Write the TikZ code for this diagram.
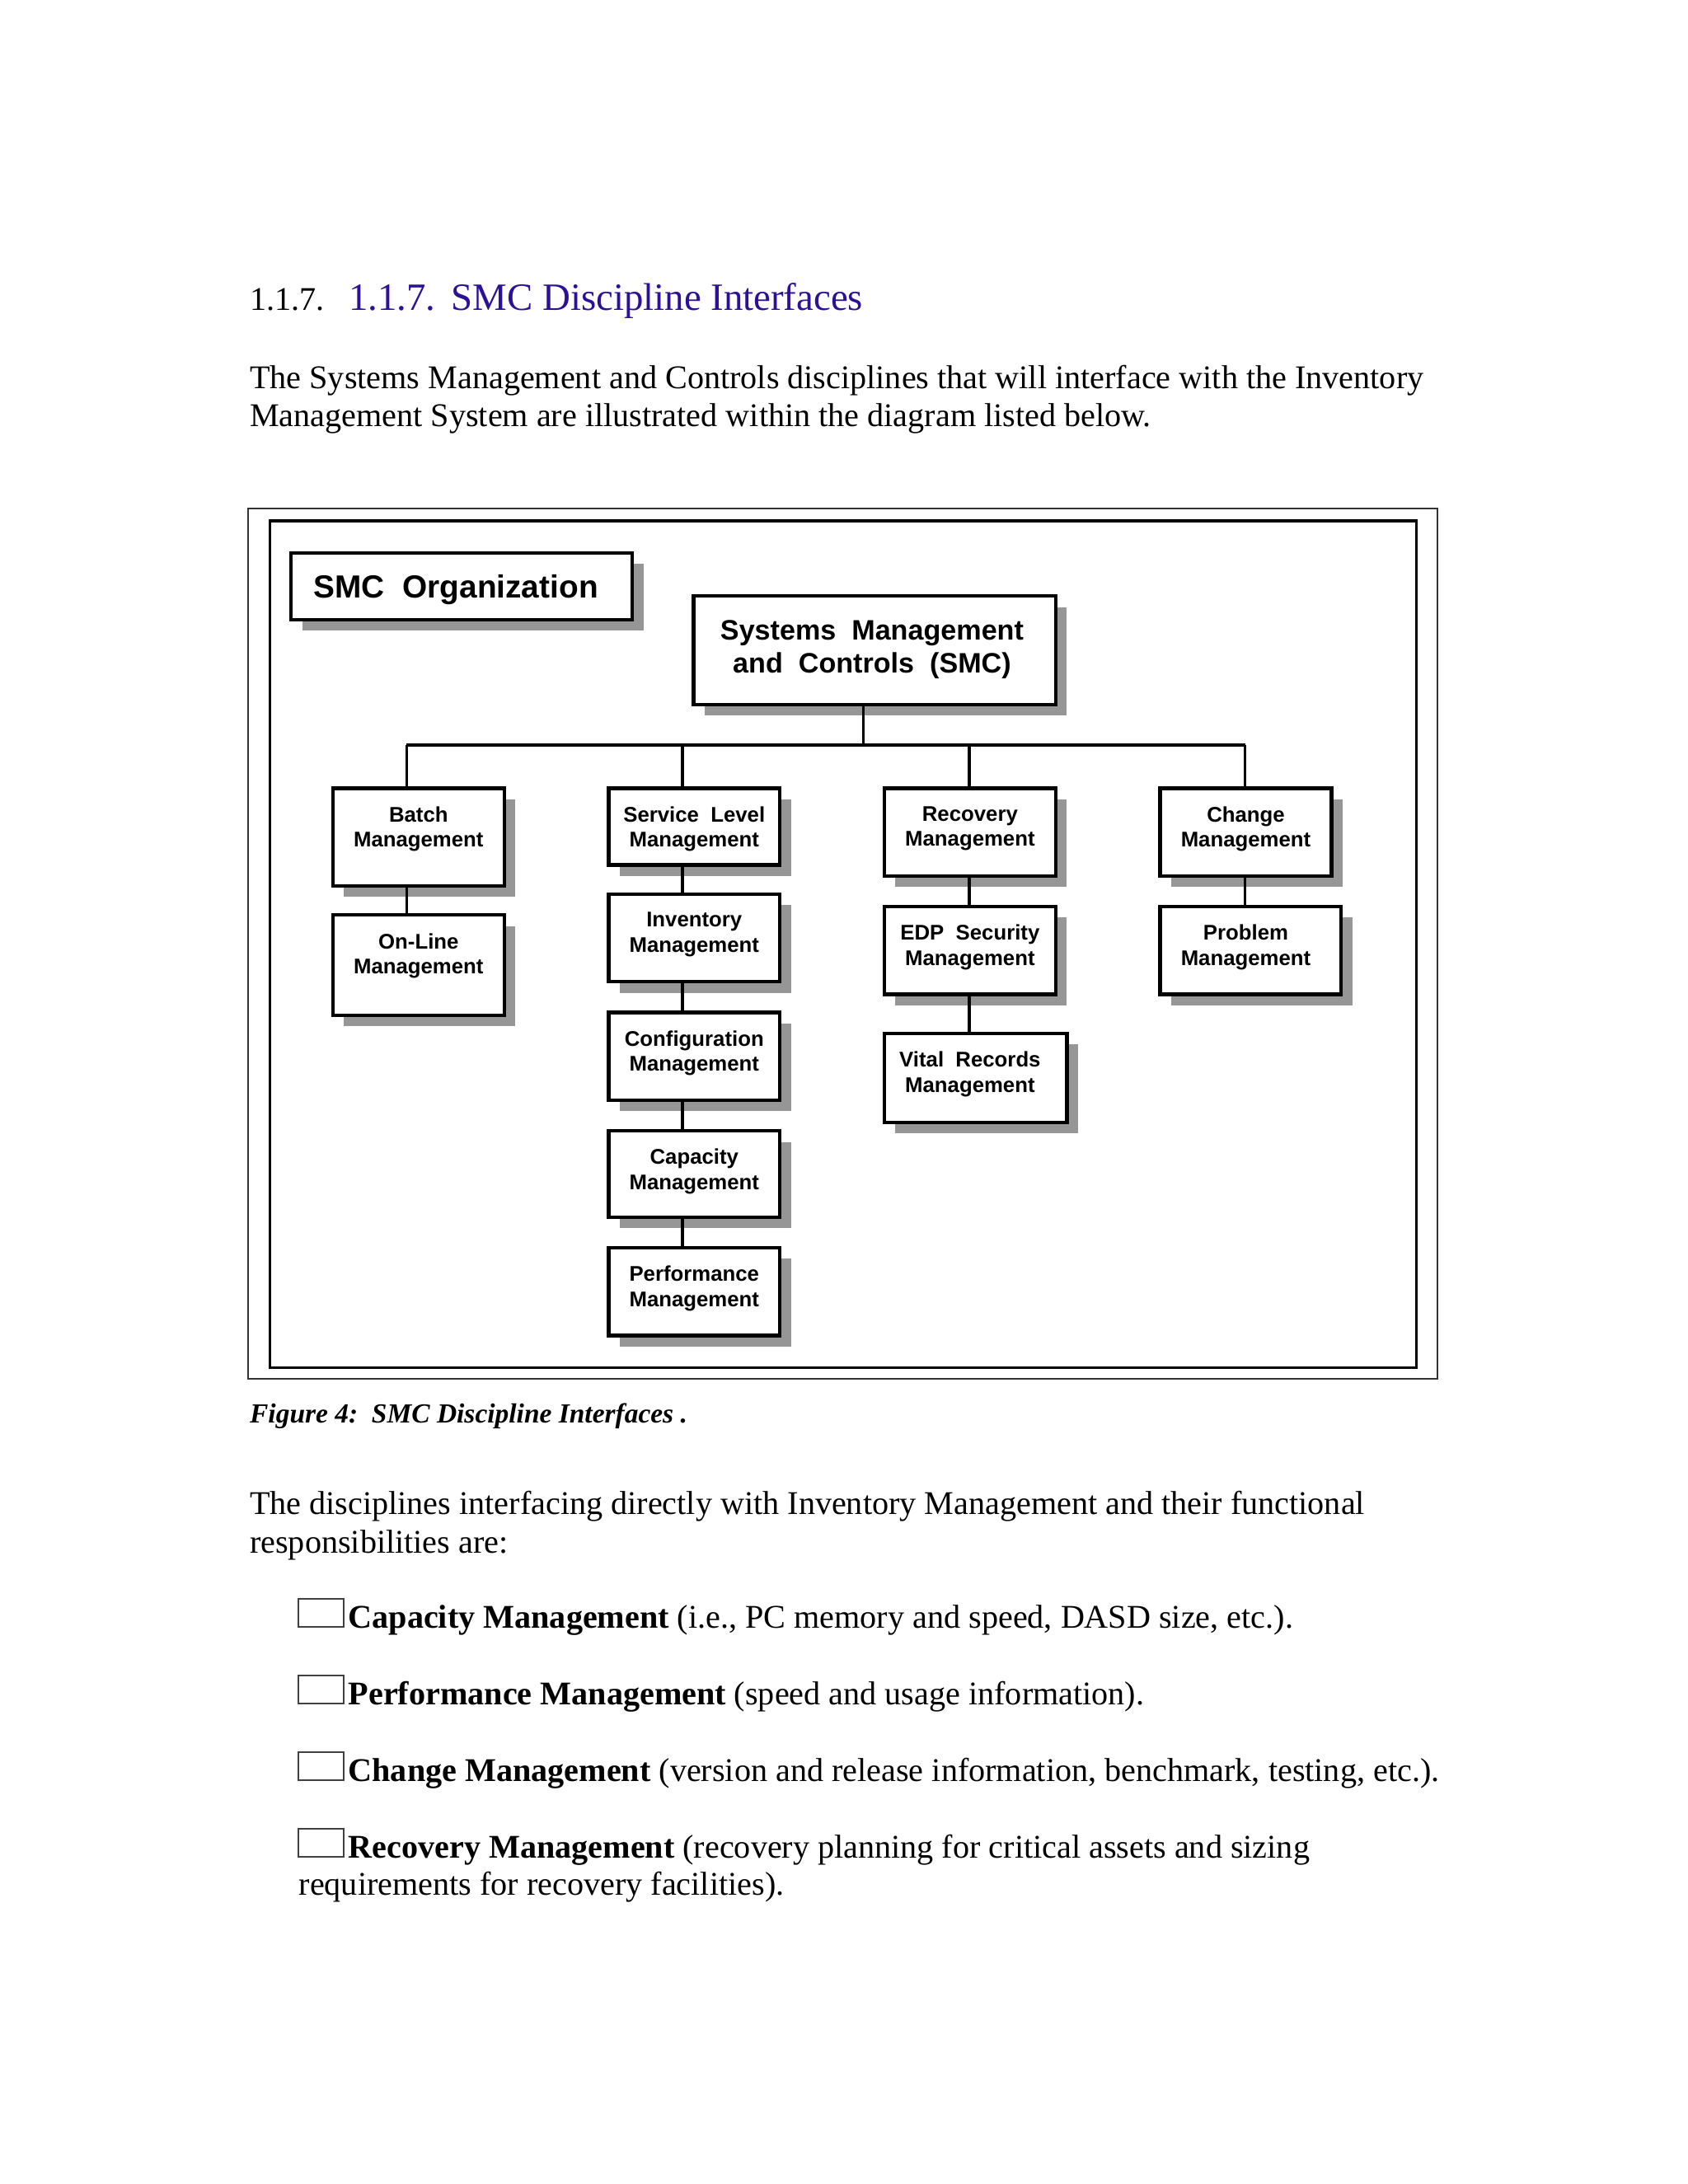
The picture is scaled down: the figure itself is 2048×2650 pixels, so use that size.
\documentclass[tikz,border=0pt]{standalone}
\usepackage{fontspec}
\setmainfont{Liberation Serif}
\setsansfont{Liberation Sans}
\usetikzlibrary{shadows,fit}
\definecolor{shadowgray}{RGB}{150,150,150}
\definecolor{headblue}{RGB}{44,16,152}
\begin{document}
\begin{tikzpicture}[x=0.29883pt,y=-0.29883pt,
  box/.style={draw=black,line width=1.3pt,fill=white,inner sep=0pt,
    drop shadow={shadow xshift=4pt,shadow yshift=-4pt,fill=shadowgray,opacity=1}},
  btext/.style={font=\sffamily\bfseries\fontsize{7.7}{9.1}\selectfont,align=center,inner sep=0pt,anchor=north},
  conn/.style={line width=1pt,black},
  body/.style={anchor=base west,inner sep=0pt,font=\fontsize{12}{13.9}\selectfont},
  bullbox/.style={draw=black!75,line width=0.6pt}]
\useasboundingbox (0,0) rectangle (2048,2650);
\fill[white] (0,0) rectangle (2048,2650);

% heading and text
\node[body] (h0) at (302.5,376.8) {1.1.7.};
\node[anchor=base west,inner sep=0pt,font=\fontsize{14}{16}\selectfont,text=headblue] (h1) at (422.4,376.8) {1.1.7.\hspace{5.7pt}SMC Discipline Interfaces};
\node[body] (p1a) at (302.5,471.5) {The Systems Management and Controls disciplines that will interface with the Inventory};
\node[body] (p1b) at (302.5,517) {Management System are illustrated within the diagram listed below.};

% frames
\draw[line width=0.5pt,draw=black!80] (300.8,616.8) rectangle (1743.9,1672.9);
\draw[line width=1pt] (327.8,632) rectangle (1718.5,1659.4);

% boxes
\node[box,fit={(353.2,670.9) (767.2,752.0)}] (org) {};
\node[anchor=base west,inner sep=0pt,font=\sffamily\bfseries\fontsize{11.6}{13}\selectfont] (org-t) at (380,725) {SMC\ \ Organization};

\node[box,fit={(841.5,723.2) (1280.9,855.0)}] (sys) {};
\node[anchor=north,inner sep=0pt,align=center,font=\sffamily\bfseries\fontsize{10.2}{12.1}\selectfont] (sys-t) at (1058,751.6) {Systems\ \ Management\\and\ \ Controls\ \ (SMC)};

\node[box,fit={(403.9,956.4) (611.7,1074.7)}] (batch) {};
\node[btext] (batch-t) at (507.8,977.9) {Batch\\Management};
\node[box,fit={(738.4,956.4) (946.3,1049.4)}] (service) {};
\node[btext] (service-t) at (842.3,977.9) {Service\ \ Level\\Management};
\node[box,fit={(1073.0,956.4) (1281.0,1062.9)}] (recovery) {};
\node[btext] (recovery-t) at (1176.9,977.9) {Recovery\\Management};
\node[box,fit={(1407.6,956.4) (1615.4,1062.9)}] (change) {};
\node[btext] (change-t) at (1511.5,977.9) {Change\\Management};

\node[box,fit={(403.9,1110.2) (611.7,1231.9)}] (online) {};
\node[btext] (online-t) at (507.8,1131.7) {On-Line\\Management};
\node[box,fit={(738.4,1084.9) (946.3,1191.3)}] (inventory) {};
\node[btext] (inventory-t) at (842.3,1106.4) {Inventory\\Management};
\node[box,fit={(1073.0,1100.0) (1281.0,1206.5)}] (edp) {};
\node[btext] (edp-t) at (1176.9,1121.5) {EDP\ \ Security\\Management};
\node[box,fit={(1407.6,1100.0) (1627.3,1206.5)}] (problem) {};
\node[btext] (problem-t) at (1511.5,1121.5) {Problem\\Management};

\node[box,fit={(738.4,1228.5) (946.3,1335.0)}] (config) {};
\node[btext] (config-t) at (842.3,1250.0) {Configuration\\Management};
\node[box,fit={(1073.0,1253.8) (1294.4,1362.0)}] (vital) {};
\node[btext] (vital-t) at (1176.9,1275.3) {Vital\ \ Records\\Management};
\node[box,fit={(738.4,1372.1) (946.3,1476.9)}] (capacity) {};
\node[btext] (capacity-t) at (842.3,1393.6) {Capacity\\Management};
\node[box,fit={(738.4,1514.0) (946.3,1620.5)}] (perf) {};
\node[btext] (perf-t) at (842.3,1535.5) {Performance\\Management};

% connectors
\coordinate (busA) at (493.4,904);
\coordinate (busB) at (828,904);
\coordinate (busM) at (1047.7,904);
\coordinate (busC) at (1176,904);
\coordinate (busD) at (1510.7,904);
\draw[conn] (busA) -- (busD);
\draw[conn] (sys.south -| busM) -- (busM);
\draw[conn] (busA) -- (busA |- batch.north);
\draw[conn] (busB) -- (busB |- service.north);
\draw[conn] (busC) -- (busC |- recovery.north);
\draw[conn] (busD) -- (busD |- change.north);
\draw[conn] (busA |- batch.south) -- (busA |- online.north);
\draw[conn] (busB |- service.south) -- (busB |- inventory.north);
\draw[conn] (busB |- inventory.south) -- (busB |- config.north);
\draw[conn] (busB |- config.south) -- (busB |- capacity.north);
\draw[conn] (busB |- capacity.south) -- (busB |- perf.north);
\draw[conn] (busC |- recovery.south) -- (busC |- edp.north);
\draw[conn] (busC |- edp.south) -- (busC |- vital.north);
\draw[conn] (busD |- change.south) -- (busD |- problem.north);

% caption and text
\node[anchor=base west,inner sep=0pt,font=\fontsize{10}{12}\selectfont\bfseries\itshape] (cap) at (302.5,1726) {Figure 4:\ \ SMC Discipline Interfaces .};
\node[body] (p2a) at (302.5,1837) {The disciplines interfacing directly with Inventory Management and their functional};
\node[body] (p2b) at (302.5,1884) {responsibilities are:};

\draw[bullbox] (362,1940.4) rectangle (417,1974.4);
\node[body] (b1) at (422,1975.4) {\textbf{Capacity Management} (i.e., PC memory and speed, DASD size, etc.).};
\draw[bullbox] (362,2033.3) rectangle (417,2067.3);
\node[body] (b2) at (422,2068.3) {\textbf{Performance Management} (speed and usage information).};
\draw[bullbox] (362,2126.3) rectangle (417,2160.3);
\node[body] (b3) at (422,2161.3) {\textbf{Change Management} (version and release information, benchmark, testing, etc.).};
\draw[bullbox] (362,2219.2) rectangle (417,2253.2);
\node[body] (b4) at (422,2254.2) {\textbf{Recovery Management} (recovery planning for critical assets and sizing};
\node[body] (b4b) at (362,2299.8) {requirements for recovery facilities).};
\end{tikzpicture}
\end{document}
